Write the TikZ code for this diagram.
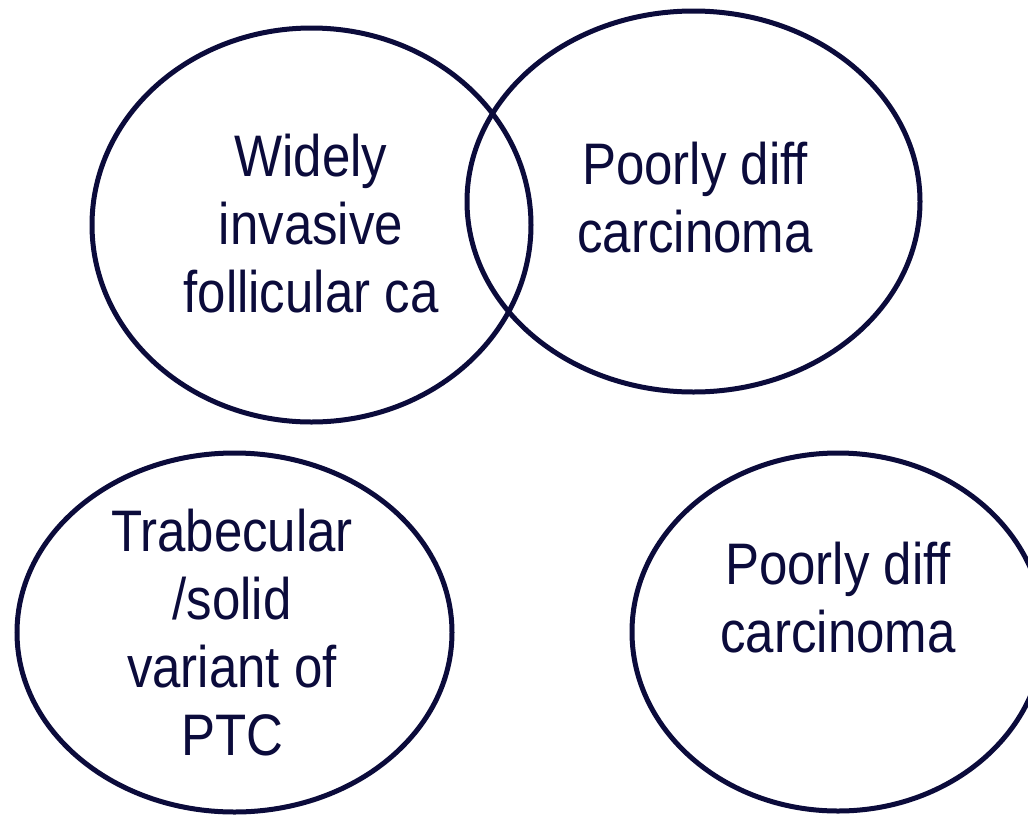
\documentclass[tikz,border=0pt]{standalone}
\usepackage{fontspec}
\usetikzlibrary{shapes.geometric}
\newfontfamily\lab[FakeStretch=0.87]{Liberation Sans}
\definecolor{navy}{HTML}{0B0B3B}
\tikzset{
  circ/.style={ellipse, draw=navy, line width=5pt, inner sep=0pt, fill=none},
  lbl/.style={text=navy, align=center, inner sep=0pt, anchor=base,
    font=\lab\fontsize{58.6pt}{68pt}\selectfont}
}
\begin{document}
\begin{tikzpicture}[x=1pt,y=-1pt]
\clip (0,0) rectangle (1028,815);
\node[circ, minimum width=439pt, minimum height=394pt] (e1) at (311.5,225) {};
\node[circ, minimum width=453pt, minimum height=381pt] (e2) at (693.5,201.5) {};
\node[circ, minimum width=435pt, minimum height=359pt] (e3) at (234.5,632.5) {};
\node[circ, minimum width=412pt, minimum height=358pt] (e4) at (838,632) {};
\node[lbl] (t1) at (311,312) {Widely\\invasive\\follicular ca};
\node[lbl] (t2) at (695,252) {Poorly diff\\carcinoma};
\node[lbl] (t3) at (232,755) {Trabecular\\/solid\\variant of\\PTC};
\node[lbl] (t4) at (838,652) {Poorly diff\\carcinoma};
\end{tikzpicture}
\end{document}
